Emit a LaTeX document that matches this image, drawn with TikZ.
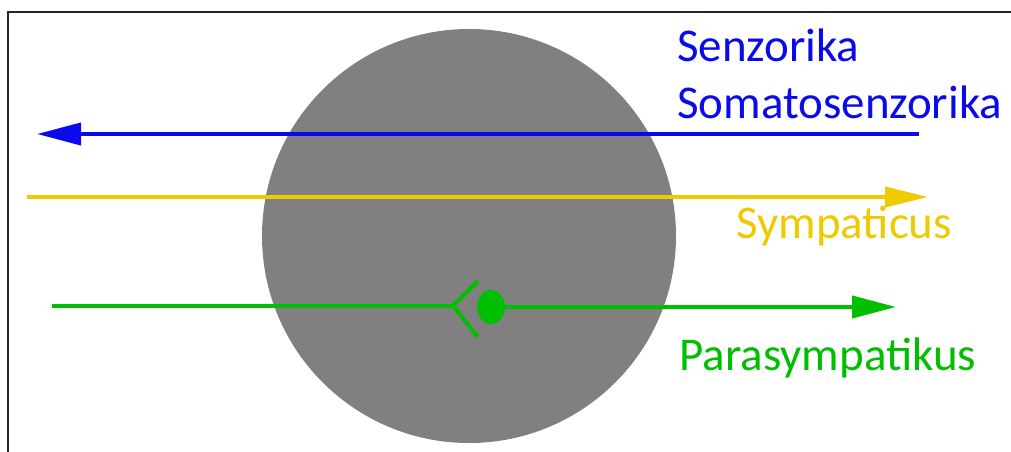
\documentclass[tikz,border=0pt]{standalone}
\usepackage{fontspec}
\setmainfont{Carlito}
\usetikzlibrary{arrows.meta,shapes.geometric}
\definecolor{nblue}{RGB}{10,10,235}
\definecolor{nyellow}{RGB}{240,202,0}
\definecolor{ngreen}{RGB}{0,190,0}
\definecolor{ngray}{RGB}{128,128,128}
\tikzset{
  lbl/.style={anchor=base west,inner sep=0pt,font=\fontsize{47}{56}\selectfont},
  nerve/.style={line width=4pt},
  tip/.style={-{Triangle[length=44pt,width=22pt]}},
}
\begin{document}
\begin{tikzpicture}[x=1pt,y=-1pt]
\useasboundingbox (0,0) rectangle (1011,452);
\draw[line width=1.3pt,black!85] (1011,12) -- (8,12) -- (8,452);
\node[circle,fill=ngray,minimum size=414pt,inner sep=0pt] (soma) at (469,236) {};
% blue
\coordinate (bs) at (919,134);
\coordinate (be) at (37,134);
\draw[nerve,nblue,tip] (bs) -- (be);
% yellow
\coordinate (ys) at (27,197);
\coordinate (ye) at (928,197);
\draw[nerve,nyellow,-{Triangle[length=43pt,width=20pt]}] (ys) -- (ye);
% green
\coordinate (gs) at (52,306);
\coordinate (gb) at (453,306);
\coordinate (gu) at (478,281);
\coordinate (gl) at (478,337);
\node[ellipse,fill=ngreen,minimum width=28pt,minimum height=34pt,inner sep=0pt] (dot) at (491,307) {};
\coordinate (ge) at (896,307);
\draw[nerve,ngreen] (gs) -- (gb);
\draw[nerve,ngreen] (gu) -- (gb) -- (gl);
\draw[nerve,ngreen,tip] (dot.center) -- (ge);
% labels
\node[lbl,text=nblue] (t1) at (677,62) {Senzorika};
\node[lbl,text=nblue] (t2) at (677,118) {Somatosenzorika};
\node[lbl,text=nyellow] (t3) at (736,238) {Sympaticus};
\node[lbl,text=ngreen] (t4) at (679,370) {Parasympatikus};
\end{tikzpicture}
\end{document}
